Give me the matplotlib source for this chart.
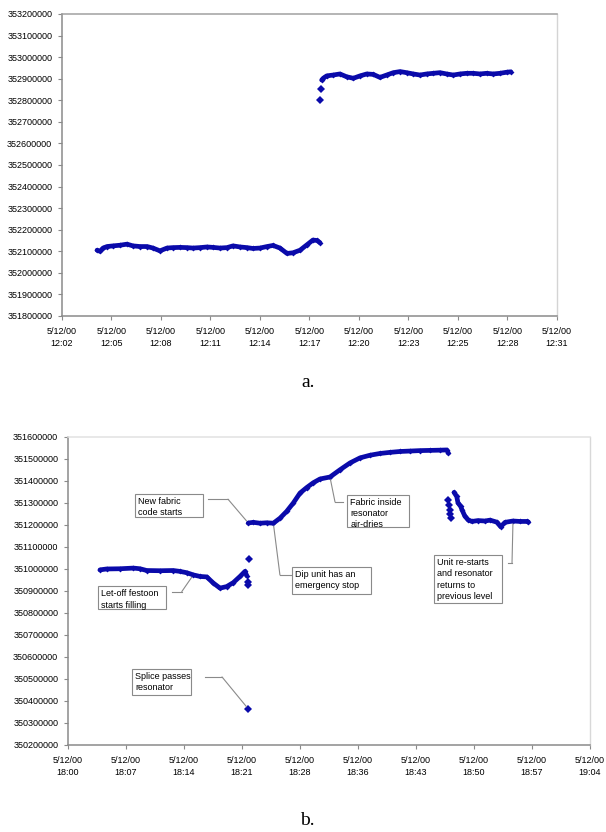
import numpy as np
import matplotlib
matplotlib.use('Agg')
import matplotlib.pyplot as plt
from matplotlib.patches import Rectangle
from matplotlib.ticker import FuncFormatter

plt.rcParams['font.family'] = ['Liberation Sans', 'DejaVu Sans']

###########################################################
# resonator frequency readings, run a (minutes after 12:00)

a_low_t = [4.44, 4.61, 4.79, 5.02, 5.37, 5.77, 6.18, 6.53, 6.94, 7.35, 7.69, 8.10,
           8.51, 8.86, 9.27, 9.67, 10.02, 10.43, 10.84, 11.19, 11.59, 12.00, 12.35,
           12.76, 13.16, 13.51, 13.92, 14.33, 14.68, 15.08, 15.49, 15.84, 16.25,
           16.65, 17.00, 17.24, 17.41]
a_low_v = [352105000, 352100000, 352115000, 352122000, 352125000, 352128000, 352133000,
           352125000, 352122000, 352122000, 352115000, 352102000, 352115000, 352117000,
           352118000, 352117000, 352115000, 352117000, 352120000, 352118000, 352115000,
           352117000, 352125000, 352120000, 352117000, 352113000, 352115000, 352122000,
           352127000, 352115000, 352090000, 352093000, 352105000, 352130000, 352152000,
           352150000, 352140000]

a_jump_t = [17.41, 17.45]
a_jump_v = [352801000, 352851000]

a_high_t = [17.51, 17.60, 17.80, 18.18, 18.57, 18.96, 19.35, 19.74, 20.13, 20.51, 20.90,
            21.29, 21.68, 22.07, 22.45, 22.84, 23.23, 23.62, 24.00, 24.39, 24.78, 25.17,
            25.56, 25.95, 26.33, 26.72, 27.11, 27.49, 27.88, 28.27, 28.51]
a_high_v = [352894000, 352902000, 352913000, 352917000, 352922000, 352909000, 352902000,
            352913000, 352922000, 352920000, 352906000, 352917000, 352928000, 352933000,
            352928000, 352922000, 352917000, 352922000, 352925000, 352928000, 352922000,
            352917000, 352922000, 352925000, 352925000, 352922000, 352925000, 352922000,
            352925000, 352930000, 352932000]

a_ticks = ['12:02', '12:05', '12:08', '12:11', '12:14', '12:17', '12:20', '12:23',
           '12:25', '12:28', '12:31']

###########################################################
# run b (minutes after 18:00)

b1_t = [3.97, 4.80, 6.46, 8.11, 8.94, 9.77, 11.42, 13.07, 13.90, 14.74, 15.56, 16.39,
        17.22, 18.04, 18.87, 19.70, 20.52, 21.35, 21.97, 22.18]
b1_v = [350996000, 351000000, 351001000, 351004000, 351001000, 350993000, 350992000,
        350993000, 350989000, 350983000, 350973000, 350966000, 350964000, 350936000,
        350913000, 350920000, 350938000, 350966000, 350989000, 350970000]
b1_extra_t = [22.30, 22.38, 22.45]
b1_extra_v = [350942000, 350925000, 351045000]

splice_t = [22.38]
splice_v = [350364000]

b2_t = [22.38, 23.00, 23.84, 24.67, 25.49, 26.32, 27.15, 27.97, 28.80, 29.63, 30.45,
        31.28, 32.52, 33.77, 35.01, 36.25, 37.49, 38.73, 39.97, 41.21, 42.46, 43.70,
        44.94, 46.18, 47.01, 47.21]
b2_v = [351209000, 351212000, 351208000, 351210000, 351208000, 351231000, 351262000,
        351300000, 351345000, 351370000, 351392000, 351409000, 351418000, 351451000,
        351482000, 351505000, 351517000, 351525000, 351530000, 351534000, 351536000,
        351538000, 351539000, 351540000, 351541000, 351527000]

b3_extra_t = [47.21, 47.30, 47.40, 47.45, 47.50]
b3_extra_v = [351315000, 351292000, 351269000, 351250000, 351233000]

b3_t = [47.92, 48.25, 48.41, 48.75, 48.91, 49.28, 49.66, 50.12, 50.90, 51.77, 52.39,
        53.22, 53.72, 54.25, 55.24, 56.11, 56.94, 57.14]
b3_v = [351348000, 351330000, 351301000, 351284000, 351269000, 351239000, 351224000,
        351216000, 351220000, 351218000, 351222000, 351213000, 351192000, 351212000,
        351218000, 351216000, 351216000, 351214000]

b_ticks = ['18:00', '18:07', '18:14', '18:21', '18:28', '18:36', '18:43', '18:50',
           '18:57', '19:04']

###########################################################

blue = '#0a0aaa'
grey = '#8a8a8a'
fs = 6.5


def series(ax, t, v):
    ax.plot(t, v, color=blue, lw=3.4, marker='D', ms=3.0, mew=0,
            solid_capstyle='round', solid_joinstyle='round')


def points(ax, t, v):
    ax.plot(t, v, ls='none', color=blue, marker='D', ms=3.6, mew=0)


def style(ax, xmin, xmax, labels, ymin, ymax, top_col, right_col):
    ax.set_xlim(xmin, xmax)
    ax.set_ylim(ymin, ymax)
    ax.set_xticks(np.linspace(xmin, xmax, len(labels)))
    ax.set_xticklabels(['5/12/00\n' + s for s in labels], linespacing=1.35)
    ax.set_yticks(np.arange(ymin, ymax + 1, 100000))
    ax.yaxis.set_major_formatter(FuncFormatter(lambda v, p: '%d' % v))
    ax.tick_params(direction='out', length=3, width=0.8, color=grey,
                   labelsize=fs, pad=4)
    ax.tick_params(axis='x', pad=5)
    for s in ['left', 'bottom']:
        ax.spines[s].set_color(grey)
        ax.spines[s].set_linewidth(1.1)
    ax.spines['top'].set_color(top_col)
    ax.spines['right'].set_color(right_col)
    ax.spines['top'].set_linewidth(1.1)
    ax.spines['right'].set_linewidth(1.0)


def callout(ax, text, box, start, knee, point):
    x0, y0, x1, y1 = box
    ax.add_patch(Rectangle((x0, y0), x1 - x0, y1 - y0, transform=ax.transAxes,
                           fc='white', ec=grey, lw=0.8, zorder=4))
    ax.text(x0 + 0.006, y1 - 0.011, text, transform=ax.transAxes, ha='left', va='top',
            fontsize=fs, linespacing=1.3, zorder=5)
    ax.plot([start[0], knee[0]], [start[1], knee[1]], transform=ax.transAxes,
            color=grey, lw=0.8)
    ax.annotate('', xy=point, xycoords='data', xytext=knee, textcoords='axes fraction',
                arrowprops=dict(arrowstyle='-', color=grey, lw=0.8, shrinkA=0, shrinkB=2))


fig = plt.figure(figsize=(6.06, 8.32), dpi=100)

ax1 = fig.add_axes([0.1023, 0.6202, 0.8168, 0.3630])
series(ax1, a_low_t, a_low_v)
points(ax1, a_jump_t, a_jump_v)
series(ax1, a_high_t, a_high_v)
style(ax1, 2.4, 31.2, a_ticks, 351800000, 353200000, '#a0a0a0', '#d4d4d4')

ax2 = fig.add_axes([0.1122, 0.1046, 0.8614, 0.3702])
series(ax2, b1_t, b1_v)
points(ax2, b1_extra_t, b1_extra_v)
points(ax2, splice_t, splice_v)
series(ax2, b2_t, b2_v)
points(ax2, b3_extra_t, b3_extra_v)
series(ax2, b3_t, b3_v)
style(ax2, 0, 64.8, b_ticks, 350200000, 351600000, '#e2e2e2', '#d8d8d8')

callout(ax2, 'New fabric\ncode starts', (0.128, 0.740, 0.259, 0.815),
        (0.268, 0.798), (0.3065, 0.798), (b2_t[0], b2_v[0]))
callout(ax2, 'Let-off festoon\nstarts filling', (0.0575, 0.442, 0.188, 0.516),
        (0.199, 0.498), (0.218, 0.498), (b1_t[10], b1_v[10]))
callout(ax2, 'Dip unit has an\nemergency stop', (0.429, 0.490, 0.580, 0.578),
        (0.429, 0.552), (0.406, 0.552), (b2_t[4], b2_v[4]))
callout(ax2, 'Fabric inside\nresonator\nair-dries', (0.5345, 0.708, 0.653, 0.812),
        (0.527, 0.789), (0.5115, 0.789), (b2_t[12], b2_v[12]))
callout(ax2, 'Unit re-starts\nand resonator\nreturns to\nprevious level',
        (0.701, 0.461, 0.831, 0.617), (0.843, 0.591), (0.8506, 0.591),
        (b3_t[14], b3_v[14]))
callout(ax2, 'Splice passes\nresonator', (0.1226, 0.162, 0.2356, 0.247),
        (0.2625, 0.221), (0.295, 0.221), (splice_t[0], splice_v[0]))

fig.text(0.508, 0.5349, 'a.', family='Liberation Serif', fontsize=14, ha='center',
         va='baseline')
fig.text(0.507, 0.008, 'b.', family='Liberation Serif', fontsize=14, ha='center',
         va='baseline')

plt.savefig('out.png', dpi=100)
